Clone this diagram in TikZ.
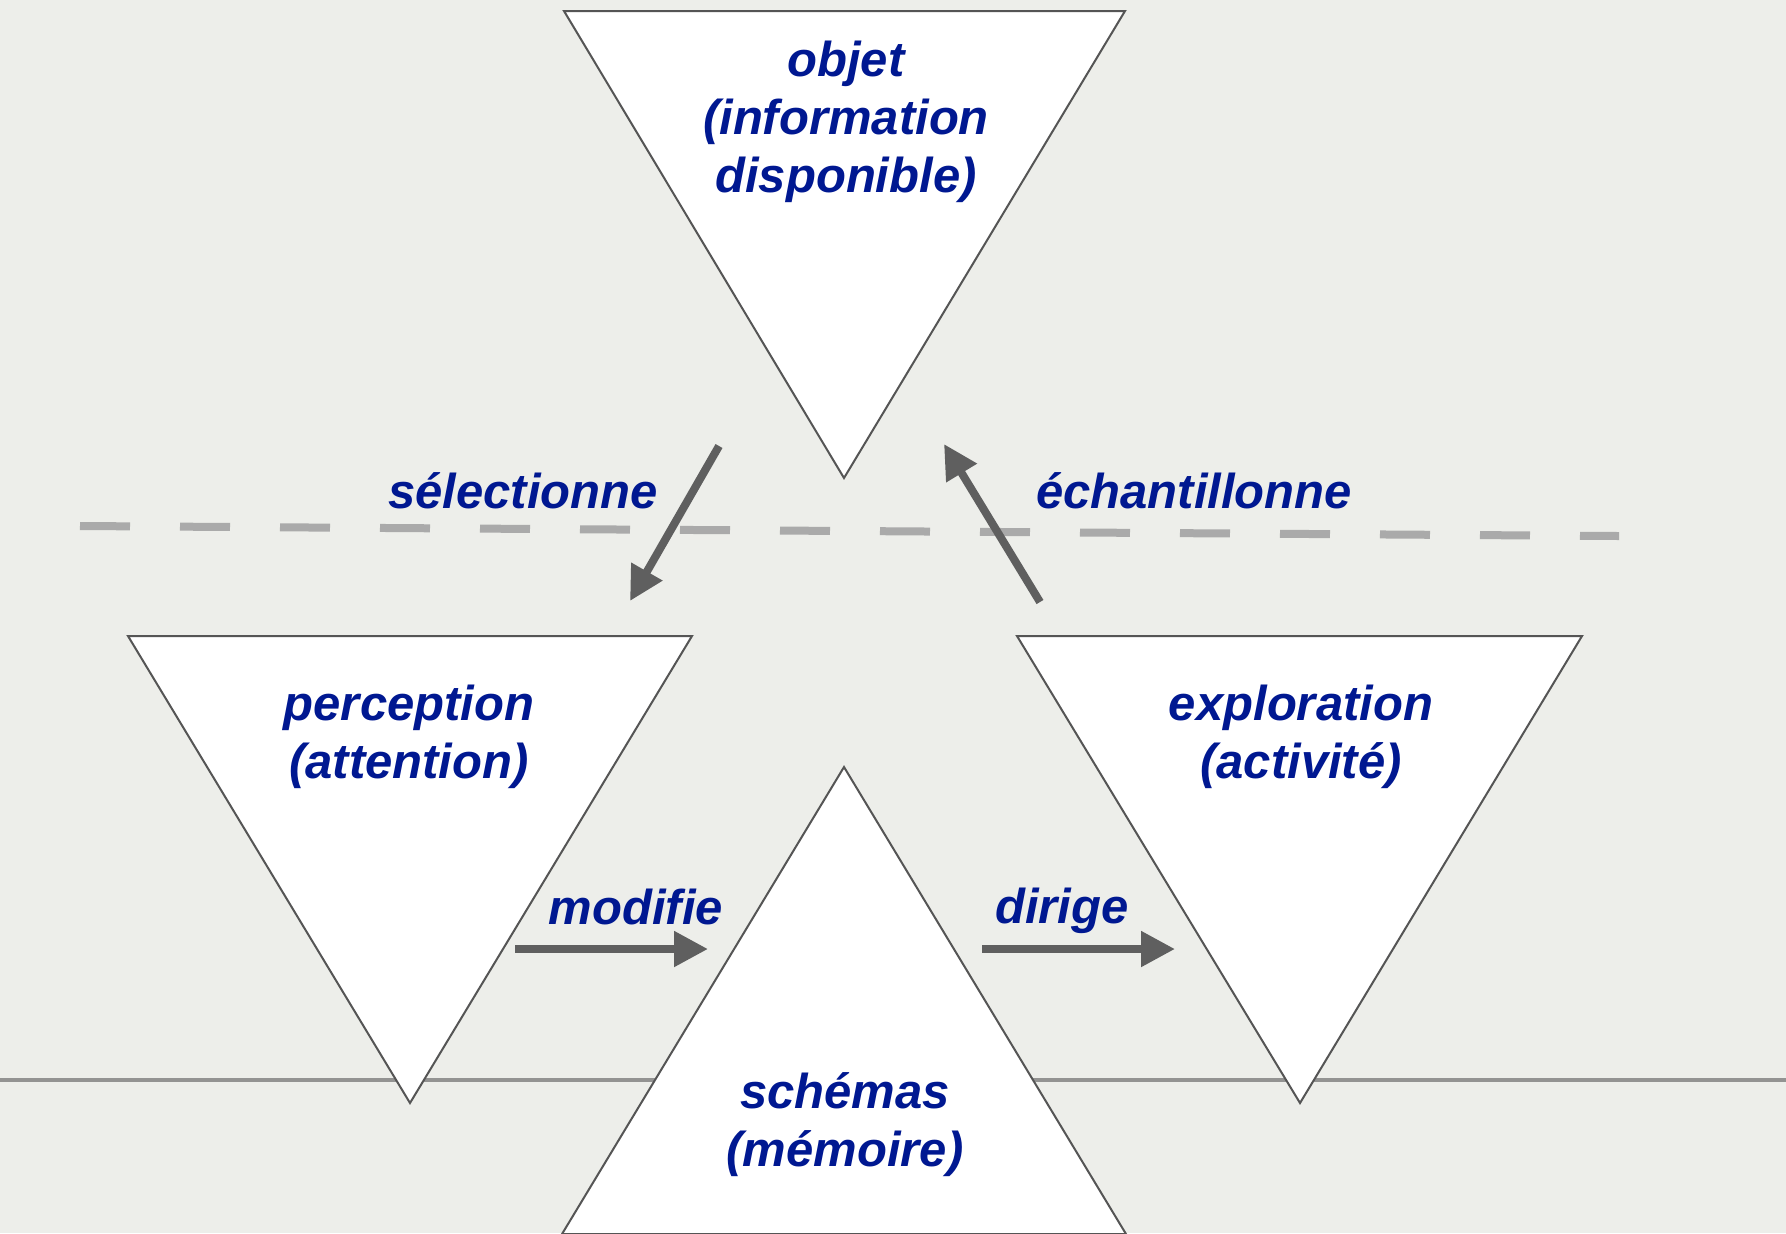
\documentclass[tikz,border=0pt]{standalone}
\usepackage{fontspec}
\setmainfont{Liberation Sans}
\usetikzlibrary{arrows.meta}
\definecolor{bgpaper}{RGB}{237,238,234}
\definecolor{inkblue}{RGB}{0,24,145}
\definecolor{edgegray}{RGB}{85,85,85}
\definecolor{arrowgray}{RGB}{95,95,95}
\definecolor{dashgray}{RGB}{170,170,170}
\definecolor{rulegray}{RGB}{125,125,125}
\begin{document}
\begin{tikzpicture}[x=0.5pt,y=-0.5pt,
  tri/.style={fill=white,draw=edgegray,line width=1pt,line join=miter},
  lbl/.style={text=inkblue,font=\fontsize{24.5}{29}\selectfont\bfseries\itshape,align=center,inner sep=0pt},
  flow/.style={draw=arrowgray,line width=4pt,-{Triangle[length=17pt,width=17pt]}},
  divider/.style={draw=dashgray,line width=4pt,dash pattern=on 25pt off 25pt}]
  % paper
  \fill[bgpaper] (0,0) rectangle (1786,1233);
  \useasboundingbox (0,0) rectangle (1786,1233);
  % horizontal rule behind the triangles
  \draw[rulegray,line width=1.6pt,opacity=0.8] (0,1080) -- (1786,1080);
  % dashed divider
  \coordinate (dvL) at (80,526);
  \coordinate (dvR) at (1619,536);
  \draw[divider] (dvL) -- (dvR);
  % triangles
  \draw[tri] (564,11) coordinate (objTL) -- (1125,11) coordinate (objTR) -- (844,478) coordinate (objV) -- cycle;
  \draw[tri] (128,636) coordinate (perTL) -- (692,636) coordinate (perTR) -- (410,1103) coordinate (perV) -- cycle;
  \draw[tri] (1017,636) coordinate (expTL) -- (1582,636) coordinate (expTR) -- (1300,1103) coordinate (expV) -- cycle;
  \draw[tri] (844,767) coordinate (schA) -- (1126,1234) coordinate (schR) -- (562,1234) coordinate (schL) -- cycle;
  % labels
  \node[lbl] (objet) at (846,122) {objet\\(information\\disponible)};
  \node[lbl] (perception) at (409,737) {perception\\(attention)};
  \node[lbl] (exploration) at (1301,737) {exploration\\(activité)};
  \node[lbl] (schemas) at (845,1125) {schémas\\(mémoire)};
  \node[lbl] (selectionne) at (523,491) {sélectionne};
  \node[lbl] (echantillonne) at (1194,491) {échantillonne};
  \node[lbl] (modifie) at (636,907) {modifie};
  \node[lbl] (dirige) at (1062,911) {dirige};
  % arrows
  \coordinate (selS) at (719,446);
  \coordinate (selE) at (630,601);
  \coordinate (echS) at (1040,602);
  \coordinate (echE) at (944,444);
  \coordinate (modS) at (515,949);
  \coordinate (modE) at (708,949);
  \coordinate (dirS) at (982,949);
  \coordinate (dirE) at (1175,949);
  \draw[flow] (selS) -- (selE);
  \draw[flow] (echS) -- (echE);
  \draw[flow] (modS) -- (modE);
  \draw[flow] (dirS) -- (dirE);
\end{tikzpicture}
\end{document}
